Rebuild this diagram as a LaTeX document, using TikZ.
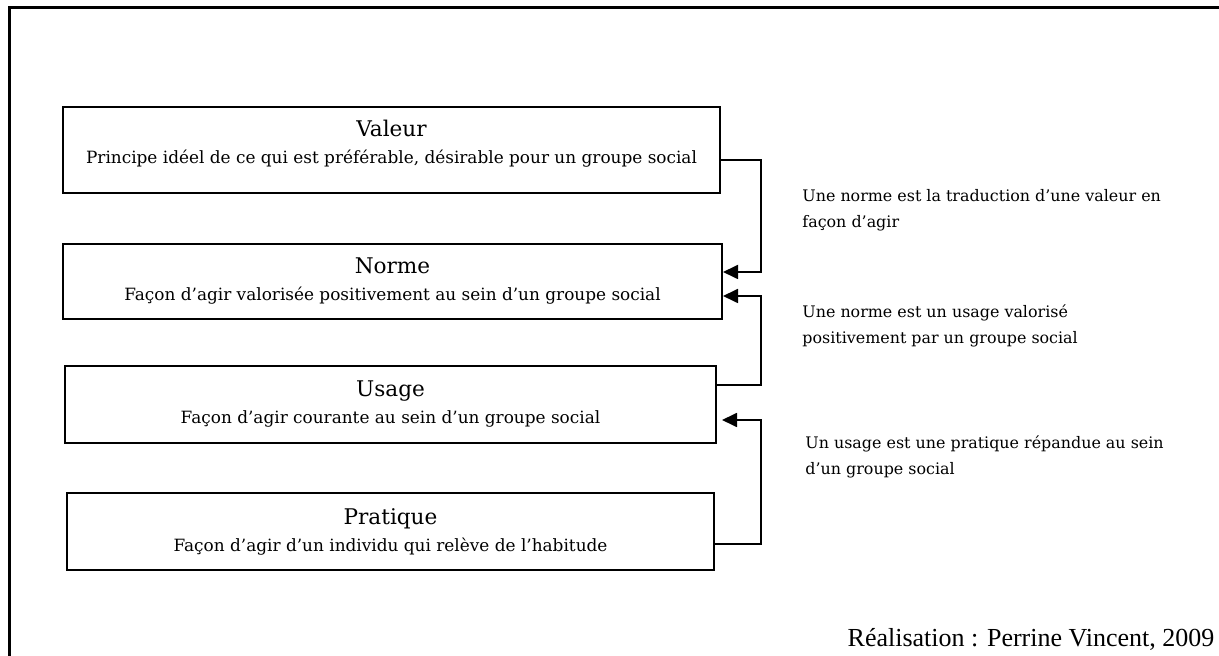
\documentclass[tikz,border=0pt]{standalone}
\usepackage{fontspec}
\setmainfont{DejaVu Serif}
\newfontfamily\creditfont{Liberation Serif}
\usetikzlibrary{arrows.meta}

\tikzset{
  box/.style={draw, line width=1pt, rectangle, align=center, inner sep=0pt,
    font=\fontsize{8.45}{13.5}\selectfont},
  note/.style={anchor=west, align=left, inner sep=0pt, font=\fontsize{7.95}{12.8}\selectfont},
  link/.style={line width=0.9pt, -{Triangle[length=7.5pt,width=7pt]}},
}

\begin{document}
\begin{tikzpicture}[x=0.5pt, y=-0.5pt]
\useasboundingbox (0,0) rectangle (1219,656);
\draw[line width=1.5pt] (9,656) -- (9,8) -- (1219,8);

\node[box, minimum width=328.5pt, minimum height=43pt] (valeur) at (391.5,150)
  {{\fontsize{10.8}{13.5}\selectfont Valeur}\\Principe idéel de ce qui est préférable, désirable pour un groupe social\\[-9pt]\strut};
\node[box, minimum width=329.5pt, minimum height=37.5pt] (norme) at (392.5,281.5)
  {{\fontsize{10.8}{13.5}\selectfont Norme}\\Façon d’agir valorisée positivement au sein d’un groupe social};
\node[box, minimum width=325.5pt, minimum height=38.5pt] (usage) at (390.5,404.5)
  {{\fontsize{10.8}{13.5}\selectfont Usage}\\Façon d’agir courante au sein d’un groupe social};
\node[box, minimum width=323.5pt, minimum height=38.5pt] (pratique) at (390.5,531.5)
  {{\fontsize{10.8}{13.5}\selectfont Pratique}\\Façon d’agir d’un individu qui relève de l’habitude};

\node[note] (trad) at (802,210) {Une norme est la traduction d’une valeur en\\façon d’agir};
\node[note] (valo) at (802,326) {Une norme est un usage valorisé\\positivement par un groupe social};
\node[note] (repandu) at (805,457) {Un usage est une pratique répandue au sein\\d’un groupe social};

\node[font=\creditfont\fontsize{13}{15}\selectfont] (credit) at (1031,639) {Réalisation : Perrine Vincent, 2009};

\coordinate (rail) at (761,0);
\coordinate (v-out) at ([yshift=-5pt]valeur.east);
\coordinate (n-in1) at ([yshift=4.75pt]norme.east);
\coordinate (n-in2) at ([yshift=-7.25pt]norme.east);
\coordinate (u-out) at ([yshift=9.75pt]usage.east);
\coordinate (u-in) at ([yshift=-7.75pt]usage.east);
\coordinate (p-out) at ([yshift=-6.25pt]pratique.east);

\path[draw,link] (v-out) -- (v-out -| rail) |- (n-in1);
\path[draw,link] (u-out) -- (u-out -| rail) |- (n-in2);
\path[draw,link,shorten >=2.5pt] (p-out) -- (p-out -| rail) |- (u-in);
\end{tikzpicture}
\end{document}
